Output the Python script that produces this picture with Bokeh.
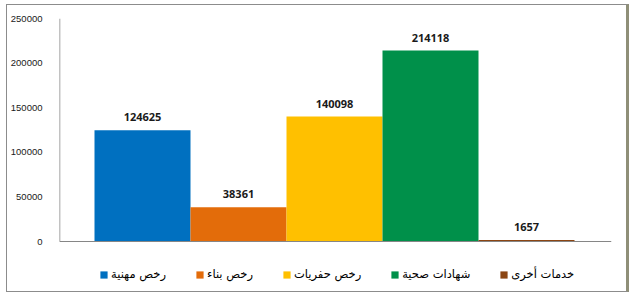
from bokeh.plotting import figure
from bokeh.models import (ColumnDataSource, Range1d, FixedTicker, Legend, LegendItem,
                          NumeralTickFormatter, Span)
from bokeh.core.properties import value
from bokeh.embed import file_html
from bokeh.resources import INLINE

categories = ["رخص مهنية", "رخص بناء", "رخص حفريات", "شهادات صحية", "خدمات أخرى"]
values = [124625, 38361, 140098, 214118, 1657]
colors = ["#0070C0", "#E36C0A", "#FFC000", "#00904A", "#8B4513"]
y_ticks = [0, 50000, 100000, 150000, 200000, 250000]

Y_MAX = 250000
PLOT_H = 223      # pixels from 0 to Y_MAX
BELOW_H = 48      # pixels of frame below the zero line (legend area)
y_min = -Y_MAX * BELOW_H / PLOT_H

xs = list(range(len(categories)))
src = ColumnDataSource(dict(x=xs, top=values, color=colors, cat=categories,
                            label=[str(v) for v in values]))

x_start = -0.5 - 35 / 96
p = figure(width=618, height=286, output_backend="svg", toolbar_location=None,
           x_range=Range1d(x_start, len(categories) - 0.5 + 37 / 96),
           y_range=Range1d(y_min, Y_MAX),
           min_border_left=51, min_border_right=15, min_border_top=13, min_border_bottom=2,
           frame_width=552, frame_height=PLOT_H + BELOW_H)
p.styles = {"margin-left": "6px", "margin-top": "4px",
            "border-left": "1px solid #8c8c8c", "border-top": "1px solid #8c8c8c",
            "border-bottom": "1px solid #8c8c8c", "border-right": "3px solid #8f8f78"}
p.outline_line_color = None
p.xgrid.grid_line_color = None
p.ygrid.grid_line_color = None
p.background_fill_color = "white"
p.border_fill_color = "white"

r = p.vbar(x="x", top="top", width=1.0, bottom=0, color="color", line_color=None, source=src)

p.text(x="x", y="top", text="label", source=src, text_align="center",
       text_baseline="alphabetic", y_offset=-13, text_font=value("Open Sans"),
       text_font_style="bold", text_font_size="11px", text_color="#1a1a1a")

# axis lines: y axis from 0 to max, x axis along zero
p.segment(x0=[x_start], y0=[0], x1=[x_start], y1=[Y_MAX], line_color="#868686", line_width=1.5)
p.add_layout(Span(location=0, dimension="width", line_color="#868686", line_width=1.2))

p.yaxis.ticker = FixedTicker(ticks=y_ticks)
p.yaxis.formatter = NumeralTickFormatter(format="0")
p.yaxis.axis_line_color = None
p.yaxis.major_tick_line_color = None
p.yaxis.minor_tick_line_color = None
p.yaxis.major_label_standoff = 11
p.yaxis.major_label_text_font = "Liberation Sans"
p.yaxis.major_label_text_font_size = "9.5px"
p.yaxis.major_label_text_color = "#1a1a1a"

p.xaxis.visible = False

items = [LegendItem(label=c, renderers=[r], index=i) for i, c in enumerate(categories)]
legend = Legend(items=items, orientation="horizontal", location=(40, 8),
                glyph_width=9, glyph_height=9, label_standoff=3, spacing=29,
                padding=0, margin=0, border_line_color=None, background_fill_alpha=0,
                label_text_font="DejaVu Sans", label_text_font_size="11.5px",
                label_text_color="#000000", label_height=12)
p.add_layout(legend, "center")

open("out.html", "w").write(file_html(p, INLINE))
